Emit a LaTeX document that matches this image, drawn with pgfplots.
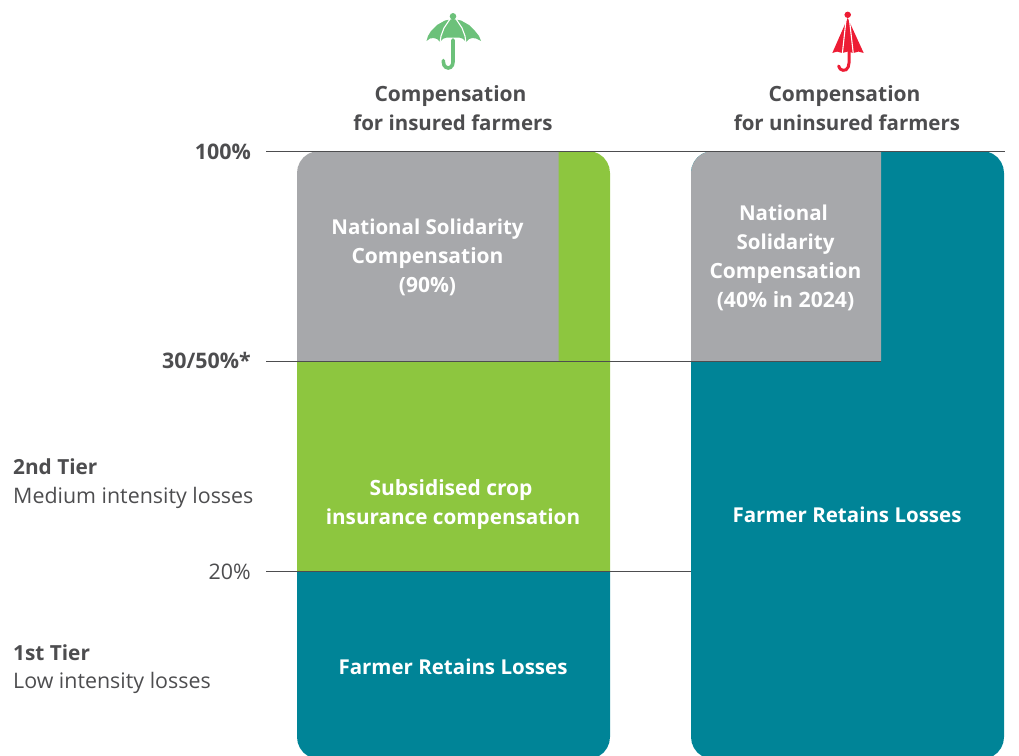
\documentclass[border=0pt]{standalone}
\usepackage{fontspec}
\setmainfont{Open Sans}
\usepackage{pgfplots}
\pgfplotsset{compat=1.18}
\definecolor{boxgrey}{HTML}{A7A8AB}
\definecolor{boxgreen}{HTML}{8DC63F}
\definecolor{boxteal}{HTML}{008497}
\definecolor{txt}{HTML}{4D4D4F}
\definecolor{umbgreen}{HTML}{6CC17A}
\definecolor{umbred}{HTML}{ED1C34}
\newcommand{\hd}[4][20.5]{\node[anchor=base,text=txt,font=\fontsize{#1}{21}\selectfont\bfseries] at (axis cs:#2,#3) {#4};}
\newcommand{\wt}[4][20.5]{\node[anchor=base,text=white,font=\fontsize{#1}{21}\selectfont\bfseries] at (axis cs:#2,#3) {#4};}
\newcommand{\pct}[3]{\node[anchor=base east,text=txt,inner sep=0pt,font=\fontsize{21.4}{21}\selectfont#3] at (axis cs:251,#1) {#2};}
\newcommand{\lft}[3]{\node[anchor=base west,text=txt,inner sep=0pt,font=\fontsize{#3}{21}\selectfont\ifdim#3pt<21.2pt\bfseries\fi] at (axis cs:13,#1) {#2};}
\begin{document}
\begin{tikzpicture}
\useasboundingbox (0,0) rectangle (1019pt,755pt);
\begin{axis}[
  at={(0,0)},
  anchor=south west,
  scale only axis,
  width=1019pt,
  height=755pt,
  xmin=0,
  xmax=1019,
  ymin=0,
  ymax=755,
  y dir=reverse,
  axis lines=none,
  clip=true,
]
% insured column
\addplot[draw=none,fill=boxgreen] coordinates {
  (558,151) (588,151) (593.69,151.75) (599,153.95) (603.56,157.44) (607.05,162) (609.25,167.31) (610,173)
  (610,572) (297,572) (297,361) (558,361)} --cycle;
\addplot[draw=none,fill=boxgrey] coordinates {
  (297,361) (297,173) (297.75,167.31) (299.95,162) (303.44,157.44) (308,153.95) (313.31,151.75) (319,151)
  (558.5,151) (558.5,361)} --cycle;
\addplot[draw=none,fill=boxteal] coordinates {
  (297,571.5) (610,571.5) (610,737) (609.25,742.69) (607.05,748) (603.56,752.56) (599,756.05) (593.69,758.25) (588,759)
  (319,759) (313.31,758.25) (308,756.05) (303.44,752.56) (299.95,748) (297.75,742.69) (297,737)} --cycle;
% uninsured column
\addplot[draw=none,fill=boxteal] coordinates {
  (691,300) (691,173) (691.75,167.31) (693.95,162) (697.44,157.44) (702,153.95) (707.31,151.75) (713,151)
  (982,151) (987.69,151.75) (993,153.95) (997.56,157.44) (1001.05,162) (1003.25,167.31) (1004,173)
  (1004,737) (1003.25,742.69) (1001.05,748) (997.56,752.56) (993,756.05) (987.69,758.25) (982,759)
  (713,759) (707.31,758.25) (702,756.05) (697.44,752.56) (693.95,748) (691.75,742.69) (691,737)} --cycle;
\addplot[draw=none,fill=boxgrey] coordinates {
  (691,361) (691,173) (691.75,167.31) (693.95,162) (697.44,157.44) (702,153.95) (707.31,151.75) (713,151)
  (881,151) (881,361)} --cycle;
% threshold lines
\addplot[txt,line width=1pt] coordinates {(266,151) (1005,151)};
\addplot[txt,line width=1pt] coordinates {(266,361) (881,361)};
\addplot[txt,line width=1pt] coordinates {(266,571.5) (691,571.5)};
% green umbrella
\addplot[umbgreen,line width=3.6pt,line cap=round] coordinates {
  (453,40) (453,62) (452.4,65) (450.6,67.2) (448.2,68) (445.8,67.2) (444,65) (443.4,62) (443.4,60.5)};
\addplot[draw=none,fill=umbgreen] coordinates {
  (453,19) (445,20.5) (437,25) (431,31) (428,36) (426.5,41)
  (430,38.5) (433.5,38) (437,39) (440,42)
  (443,38.8) (447,37.5) (453,37.5) (459,37.5) (463,38.8) (466,42)
  (469,39) (472.5,38) (476,38.5) (481,41)
  (479,36) (475,31) (469,25) (461,20.5)} --cycle;
\addplot[white,line width=1.1pt] coordinates {(450,19) (444,28) (441,36) (440,43)};
\addplot[white,line width=1.1pt] coordinates {(456,19) (462,28) (465,36) (466,43)};
\addplot[draw=none,fill=umbgreen] coordinates {
  (453,13) (455.3,14) (456.3,16.3) (455.3,18.6) (453,19.6) (450.7,18.6) (449.7,16.3) (450.7,14)} --cycle;
% red umbrella
\addplot[umbred,line width=3pt,line cap=round] coordinates {
  (849,50) (849,63) (848.2,67) (846,69.8) (843,70.3) (840.2,69) (838.6,66)};
\addplot[draw=none,fill=umbred] coordinates {
  (847.7,18) (832.3,53) (837,51.6) (842.3,53) (847.7,51.6) (853.3,53) (858.5,51.6) (863.7,53)} --cycle;
\addplot[white,line width=1.1pt] coordinates {(846,20) (842.3,54)};
\addplot[white,line width=1.1pt] coordinates {(849.5,20) (853.3,54)};
\addplot[draw=none,fill=umbred] coordinates {
  (847.7,11.6) (850,12.6) (851,14.8) (850,17) (847.7,18) (845.4,17) (844.4,14.8) (845.4,12.6)} --cycle;
% column headings
\hd[21]{450.5}{101}{Compensation}
\hd{453}{130}{for insured farmers}
\hd[21]{844.5}{101}{Compensation}
\hd{847}{130}{for uninsured farmers}
% left labels
\pct{159}{100\%}{\bfseries}
\pct{368}{30/50\%*}{\bfseries}
\pct{579}{20\%}{}
\lft{474}{2nd Tier}{20.8}
\lft{503}{Medium intensity losses}{21.4}
\lft{660}{1st Tier}{20.8}
\lft{688}{Low intensity losses}{21.4}
% box labels
\wt{427.5}{234}{National Solidarity}
\wt[21]{427.5}{263}{Compensation}
\wt[21]{427.5}{292}{(90\%)}
\wt{783.5}{220}{National}
\wt{785.5}{249}{Solidarity}
\wt[21]{785.5}{278}{Compensation}
\wt[21.2]{785.5}{307}{(40\% in 2024)}
\wt[21]{451}{495}{Subsidised crop}
\wt[20.7]{453}{524}{insurance compensation}
\wt{847}{522}{Farmer Retains Losses}
\wt{453}{674}{Farmer Retains Losses}
\end{axis}
\end{tikzpicture}
\end{document}
